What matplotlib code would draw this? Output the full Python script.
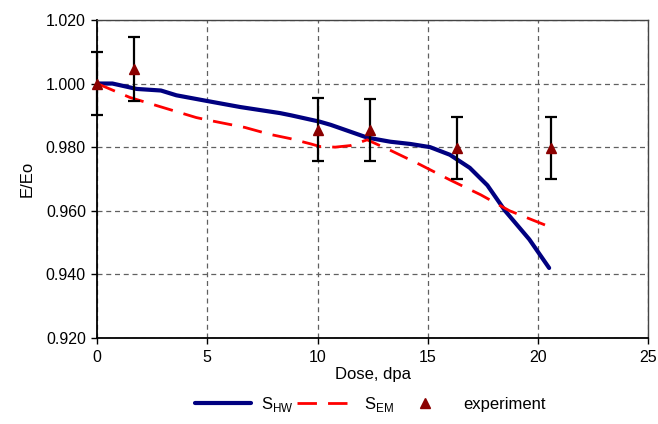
import matplotlib
matplotlib.use("Agg")
import matplotlib.pyplot as plt

plt.rcParams['font.family'] = ['Liberation Sans', 'DejaVu Sans']

hw_x = [0, 0.7, 1.8, 2.9, 3.6, 5.0, 6.5, 8.3, 8.8, 10.1, 10.6, 12.25, 13.3, 14.2, 15.1, 16.0, 16.9, 17.7, 18.5, 19.6, 20.5]
hw_y = [1.000, 1.000, 0.9983, 0.9978, 0.9963, 0.9945, 0.9926, 0.9907, 0.9900, 0.9880, 0.9870, 0.9830, 0.9817, 0.9810, 0.9800, 0.9776, 0.9735, 0.9680, 0.9600, 0.9510, 0.9420]

em_x = [0, 1.5, 2.4, 4.5, 5.1, 6.7, 7.85, 8.75, 9.7, 10.1, 10.8, 11.5, 12.25, 13.3, 14.65, 16.0, 17.4, 18.7, 20.5]
em_y = [1.000, 0.9956, 0.9937, 0.9893, 0.9884, 0.9862, 0.9840, 0.9827, 0.9810, 0.9802, 0.9800, 0.9805, 0.9823, 0.9790, 0.9745, 0.9697, 0.9650, 0.9600, 0.9550]

exp_x = [0, 1.7, 10.0, 12.4, 16.3, 20.6]
exp_y = [1.000, 1.0045, 0.9855, 0.9853, 0.9797, 0.9797]
exp_err = [0.010, 0.010, 0.0098, 0.0098, 0.0098, 0.0098]

fig = plt.figure(figsize=(6.58, 4.24), dpi=100)
ax = fig.add_axes([0.1474, 0.203, 0.838, 0.750])

ax.plot(hw_x, hw_y, color='#000080', lw=3, label='S$_{\\mathregular{HW}}$', zorder=3, solid_capstyle='round')
ax.plot(em_x, em_y, color='#ff0000', lw=2, dashes=(7, 4), label='S$_{\\mathregular{EM}}$', zorder=3)
eb = ax.errorbar(exp_x, exp_y, yerr=exp_err, fmt='none', ecolor='black', elinewidth=1.6, capsize=4.5, capthick=1.6, zorder=4)
for art in eb.lines[1] + eb.lines[2]:
    art.set_clip_on(False)
ax.plot(exp_x, exp_y, linestyle='none', marker='^', color='#8b0000', markersize=7, label='experiment', zorder=5, clip_on=False)

ax.set_xlim(0, 25)
ax.set_ylim(0.920, 1.020)
ax.set_xticks([0, 5, 10, 15, 20, 25])
ax.set_yticks([0.920, 0.940, 0.960, 0.980, 1.000, 1.020])
ax.set_yticklabels(['%.3f' % v for v in [0.920, 0.940, 0.960, 0.980, 1.000, 1.020]])
ax.grid(True, color='#606060', linestyle=(0, (4, 3)), linewidth=0.9)
ax.tick_params(direction='out', length=4, width=1, labelsize=11.5, colors='black', pad=4)
ax.tick_params(axis='x', pad=5)
for s in ['left', 'bottom']:
    ax.spines[s].set_color('black')
    ax.spines[s].set_linewidth(1.3)
for s in ['top', 'right']:
    ax.spines[s].set_color('#444444')
    ax.spines[s].set_linewidth(1.0)

ax.set_xlabel('Dose, dpa', fontsize=12, labelpad=1)
ax.set_ylabel('E/Eo', fontsize=12, labelpad=8)

fig.legend(loc='lower center', bbox_to_anchor=(0.563, -0.012), ncol=3, frameon=False,
           fontsize=12, handlelength=3.4, columnspacing=0.2, handletextpad=0.6)

fig.savefig('out.png', dpi=100)
